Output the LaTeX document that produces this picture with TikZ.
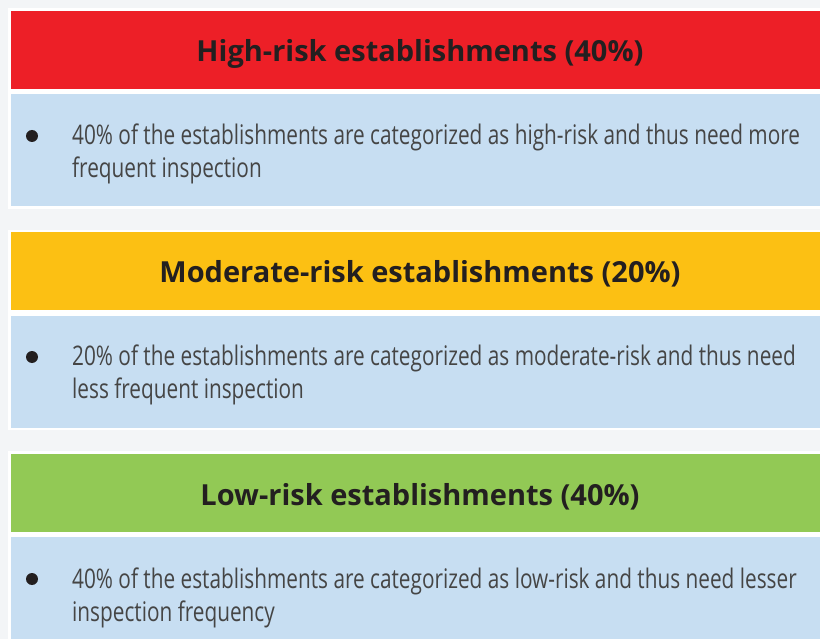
\documentclass[tikz,border=0pt]{standalone}
\usepackage{fontspec}
\setmainfont{Open Sans}
\newfontfamily\bodyfont{Open Sans}[FakeStretch=0.77]
\definecolor{pagegray}{HTML}{F3F5F7}
\definecolor{riskred}{HTML}{ED1F27}
\definecolor{riskyellow}{HTML}{FCC013}
\definecolor{riskgreen}{HTML}{92C955}
\definecolor{bodyblue}{HTML}{C7DEF2}
\definecolor{inkdark}{HTML}{231F20}
\definecolor{inkgray}{HTML}{454545}

\begin{document}
\begin{tikzpicture}[x=1pt,y=-1pt,
    card/.style={fill=white,inner sep=0,minimum width=822,minimum height=#1,anchor=north west},
    head/.style={fill=#1,inner sep=0,minimum width=818,minimum height=78,anchor=north west},
    title/.style={inner sep=0,anchor=base,text=inkdark,font=\fontsize{29}{34}\selectfont\bfseries},
    body/.style={fill=bodyblue,inner sep=0,minimum width=818,minimum height=#1,anchor=north west},
    dot/.style={circle,fill=inkdark,inner sep=0,minimum size=12},
    say/.style={inner sep=0,anchor=base west,align=left,text=inkgray,
      font=\bodyfont\fontsize{27}{33}\selectfont}]
  \useasboundingbox (0,0) rectangle (820,639) ;
  \clip (0,0) rectangle (820,639) ;
  \fill[pagegray] (0,0) rectangle (820,639) ;
  % high risk
  \node[card=200.5] (highcard) at (8,8) {} ;
  \node[head=riskred] (high) at (11,11) {} ;
  \node[title] (hightitle) at (420,62) {High-risk establishments (40\%)} ;
  \node[body=111.5] (highbody) at (11,94) {} ;
  \node[dot] (highdot) at (32,136) {} ;
  \node[say] (hightext) at (72,178) {40\% of the establishments are categorized as high-risk and thus need more\\frequent inspection} ;
  % moderate risk
  \node[card=200.5] (modcard) at (8,229.5) {} ;
  \node[head=riskyellow] (mod) at (11,232) {} ;
  \node[title] (modtitle) at (420,283) {Moderate-risk establishments (20\%)} ;
  \node[body=111.5] (modbody) at (11,316) {} ;
  \node[dot] (moddot) at (32,357) {} ;
  \node[say] (modtext) at (72,399) {20\% of the establishments are categorized as moderate-risk and thus need\\less frequent inspection} ;
  % low risk
  \node[card=220] (lowcard) at (8,451) {} ;
  \node[head=riskgreen] (low) at (11,454) {} ;
  \node[title] (lowtitle) at (420,505) {Low-risk establishments (40\%)} ;
  \node[body=120] (lowbody) at (11,537) {} ;
  \node[dot] (lowdot) at (32,579) {} ;
  \node[say] (lowtext) at (72,621) {40\% of the establishments are categorized as low-risk and thus need lesser\\inspection frequency} ;
\end{tikzpicture}
\end{document}
